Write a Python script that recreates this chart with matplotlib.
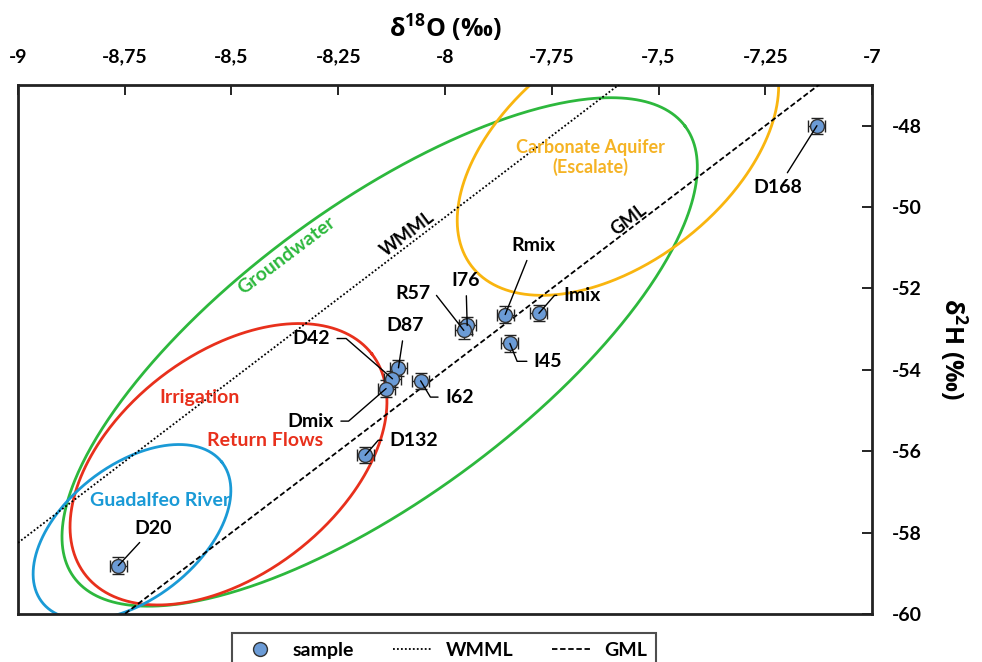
import numpy as np
import matplotlib.pyplot as plt
from matplotlib.ticker import FuncFormatter, MultipleLocator
from matplotlib.lines import Line2D

plt.rcParams['font.family'] = ['Lato', 'DejaVu Sans']
plt.rcParams['font.weight'] = 'bold'
plt.rcParams['mathtext.fontset'] = 'custom'
plt.rcParams['mathtext.bf'] = 'Open Sans:bold'
plt.rcParams['mathtext.default'] = 'bf'

# ---------------------------
# sample isotope values
# ---------------------------
names = ['D168', 'Imix', 'Rmix', 'I45', 'I76', 'R57', 'D87', 'D42', 'Dmix', 'I62', 'D132', 'D20']
d18o = [-7.129, -7.780, -7.859, -7.848, -7.948, -7.956, -8.109, -8.123, -8.138, -8.057, -8.187, -8.765]
d2h = [-48.00, -52.61, -52.64, -53.35, -52.91, -53.03, -53.95, -54.22, -54.46, -54.27, -56.10, -58.81]
err_18o = 0.02
err_2h = 0.2

# meteoric water lines: slope, intercept
gml = (8.0, 10.0)
wmml = (8.0, 13.75)

# end-member fields: centre and the two half-axis vectors (data units)
field_names = ['Groundwater', 'Irrigation\nReturn Flows', 'Guadalfeo River', 'Carbonate Aquifer\n(Escalate)']
field_centre = [(-8.153, -53.56), (-8.507, -56.32), (-8.733, -57.99), (-7.595, -48.675)]
field_u = [(0.7156, 5.544), (0.3358, 2.710), (0.2104, 1.722), (0.3423, 2.783)]
field_v = [(-0.2033, 2.881), (-0.1579, 2.148), (-0.0966, 1.296), (-0.1565, 2.113)]
field_colors = ['#2db83d', '#e8301c', '#1a9ad6', '#f9b50f']

fig = plt.figure(figsize=(9.82, 6.62), dpi=100)
ax = fig.add_axes([0.0183, 0.0725, 0.8697, 0.7991])

# ellipses
t = np.linspace(0, 2 * np.pi, 500)
for c, u, v, col in zip(field_centre, field_u, field_v, field_colors):
    ex = c[0] + u[0] * np.cos(t) + v[0] * np.sin(t)
    ey = c[1] + u[1] * np.cos(t) + v[1] * np.sin(t)
    ax.plot(ex, ey, color=col, lw=2.0, zorder=2)

# meteoric lines
xl = np.array([-9.2, -6.8])
ax.plot(xl, wmml[0] * xl + wmml[1], color='black', ls=(0, (1, 1.2)), lw=1.3, zorder=3, label='WMML')
ax.plot(xl, gml[0] * xl + gml[1], color='black', ls=(0, (3, 1.5)), lw=1.3, zorder=3, label='GML')

# samples with analytical error
ax.errorbar(d18o, d2h, xerr=err_18o, yerr=err_2h, fmt='none', ecolor='#222222',
            elinewidth=1.0, capsize=4, capthick=1.0, zorder=4)
ax.plot(d18o, d2h, 'o', ms=10, mfc='#6b9bd6', mec='#333333', mew=1.0, zorder=5, label='sample')

# sample labels: text x, text y, alignment, connection
labels = {
    'D168': (-7.220, -49.52, 'center', 'arc3'),
    'Rmix': (-7.794, -50.94, 'center', 'arc3'),
    'I76': (-7.951, -51.80, 'center', 'arc3'),
    'D87': (-8.094, -52.91, 'center', 'arc3'),
    'D20': (-8.684, -57.89, 'center', 'arc3'),
    'Imix': (-7.722, -52.17, 'left', 'angle,angleA=0,angleB=49,rad=0'),
    'R57': (-8.035, -52.12, 'right', 'angle,angleA=0,angleB=-52,rad=0'),
    'D42': (-8.269, -53.23, 'right', 'angle,angleA=0,angleB=-41,rad=0'),
    'Dmix': (-8.260, -55.26, 'right', 'angle,angleA=0,angleB=41,rad=0'),
    'D132': (-8.131, -55.73, 'left', 'angle,angleA=0,angleB=49,rad=0'),
    'I62': (-8.000, -54.67, 'left', 'angle,angleA=0,angleB=-59,rad=0'),
    'I45': (-7.792, -53.79, 'left', 'angle,angleA=0,angleB=-68,rad=0'),
}
relpos = {'center': (0.5, 0.5), 'left': (0.0, 0.5), 'right': (1.0, 0.5)}
for n, px, py in zip(names, d18o, d2h):
    tx, ty, ha, conn = labels[n]
    ax.annotate(n, xy=(px, py), xytext=(tx, ty), ha=ha, va='center',
                fontsize=14, fontweight='bold', color='black', zorder=6,
                arrowprops=dict(arrowstyle='-', connectionstyle=conn, color='black',
                                lw=1.0, shrinkA=3, shrinkB=0, relpos=relpos[ha]))

# field and line labels
ax.text(-8.372, -51.20, 'Groundwater', color='#2db83d', fontsize=14, rotation=37,
        ha='center', va='center')
ax.text(-8.574, -54.67, 'Irrigation', color='#e8301c', fontsize=14, ha='center', va='center')
ax.text(-8.422, -55.73, 'Return Flows', color='#e8301c', fontsize=14, ha='center', va='center')
ax.text(-8.667, -57.20, 'Guadalfeo River', color='#1a9ad6', fontsize=14, ha='center', va='center')
ax.text(-7.66, -48.78, 'Carbonate Aquifer\n(Escalate)', color='#f5b324', fontsize=13,
        ha='center', va='center', linespacing=1.15)
ax.text(-8.087, -50.65, 'WMML', color='black', fontsize=13, rotation=37, ha='center', va='center')
ax.text(-7.569, -50.31, 'GML', color='black', fontsize=13, rotation=37, ha='center', va='center')

# axes
ax.set_xlim(-9, -7)
ax.set_ylim(-60, -47)
ax.xaxis.tick_top()
ax.yaxis.tick_right()
ax.xaxis.set_major_locator(MultipleLocator(0.25))
ax.set_yticks(np.arange(-60, -47, 2))
comma = FuncFormatter(lambda v, p: f'{v:g}'.replace('.', ','))
ax.xaxis.set_major_formatter(comma)
ax.yaxis.set_major_formatter(comma)
ax.tick_params(axis='both', direction='in', length=7, width=1.2, labelsize=14, pad=14)
ax.tick_params(axis='x', top=True, bottom=False)
ax.tick_params(axis='y', right=True, left=False)
for lab in ax.get_xticklabels() + ax.get_yticklabels():
    lab.set_fontweight('bold')
for s in ax.spines.values():
    s.set_linewidth(2.0)
    s.set_color('#222222')

ax.xaxis.set_label_position('top')
ax.set_xlabel('δ$^{18}$O (‰)', fontsize=18, fontweight='bold', fontfamily='Open Sans', labelpad=8)
ax.yaxis.set_label_position('right')
ax.set_ylabel('δ$^{2}$H (‰)', fontsize=18, fontweight='bold', fontfamily='Open Sans',
              rotation=270, labelpad=34)

handles = [Line2D([], [], ls='none', marker='o', ms=10, mfc='#6b9bd6', mec='#333333'),
           Line2D([], [], color='black', ls=(0, (1, 1.2)), lw=1.3),
           Line2D([], [], color='black', ls=(0, (3, 1.5)), lw=1.3)]
leg = fig.legend(handles, ['sample', 'WMML', 'GML'], loc='upper center', ncol=3,
                 bbox_to_anchor=(0.452, 0.058), frameon=True, fancybox=False,
                 handlelength=2.0, handletextpad=0.7, columnspacing=2.0, borderpad=0.45,
                 prop={'weight': 'bold', 'size': 14})
leg.get_frame().set_edgecolor('#222222')
leg.get_frame().set_linewidth(1.5)

fig.savefig('out.png', dpi=100)
